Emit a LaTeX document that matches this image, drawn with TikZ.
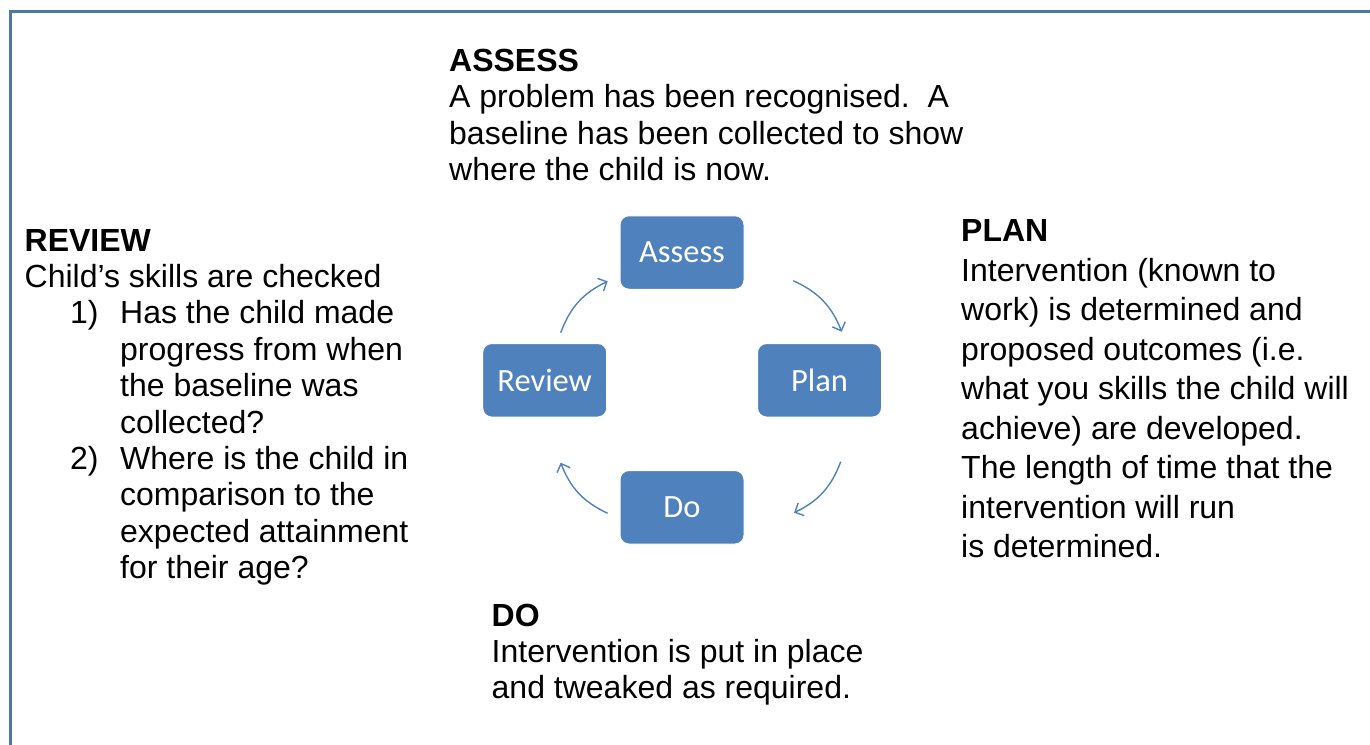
\documentclass[tikz,border=0pt]{standalone}
\usepackage{fontspec}
\setmainfont{Liberation Sans}
\newfontfamily\boxfont{Carlito}
\usetikzlibrary{arrows.meta}
\definecolor{boxblue}{HTML}{4F81BD}
\definecolor{framecol}{HTML}{4A78A8}
\begin{document}
\begin{tikzpicture}[x=1pt,y=-1pt,
  txt/.style={anchor=base west, inner sep=0pt, font=\fontsize{32}{36}\selectfont},
  hd/.style={anchor=base west, inner sep=0pt, font=\fontsize{32}{36}\selectfont\bfseries},
  stage/.style={draw=white, line width=1pt, fill=boxblue, rounded corners=9pt,
    minimum width=124pt, minimum height=73.5pt, inner sep=0pt, text=white,
    font=\boxfont\fontsize{32.5}{36}\selectfont},
  cyc/.style={draw=boxblue, line width=1.4pt, -{Straight Barb[length=7pt,width=14pt]}, bend left=22}
]
\useasboundingbox (0,0) rectangle (1370,744);
\draw[framecol, line width=3pt] (10,760) -- (10,11.5) -- (1380,11.5);

% stage boxes
\node[stage] (assess) at (682,252.5) {Assess};
\node[stage] (plan)   at (819.5,380.3) {Plan};
\node[stage] (do)     at (682,507.3) {Do};
\node[stage] (review) at (544.7,380.3) {Review};

% cycle arrows
\coordinate (ra1) at (560.7,332.7);
\coordinate (ra2) at (607.7,281.3);
\coordinate (ap1) at (793.3,280.7);
\coordinate (ap2) at (841.7,331.7);
\coordinate (pd1) at (840.7,461.7);
\coordinate (pd2) at (794,512.7);
\coordinate (dr1) at (607.7,513.3);
\coordinate (dr2) at (560.7,462.7);
\draw[cyc] (ra1) to (ra2);
\draw[cyc] (ap1) to (ap2);
\draw[cyc] (pd1) to (pd2);
\draw[cyc] (dr1) to (dr2);

% ASSESS text
\node[hd]  (a0) at (449,71)    {ASSESS};
\node[txt] (a1) at (449,107.7) {A problem has been recognised.\ \ A};
\node[txt] (a2) at (449,144)   {baseline has been collected to show};
\node[txt] (a3) at (449,180.5) {where the child is now.};

% REVIEW text
\node[hd]  (r0) at (24.5,251)   {REVIEW};
\node[txt] (r1) at (24.5,287.4) {Child’s skills are checked};
\node[txt] (n1) at (70,323.8)   {1)};
\node[txt] (r2) at (120,323.8)  {Has the child made};
\node[txt] (r3) at (120,360.2)  {progress from when};
\node[txt] (r4) at (120,396.6)  {the baseline was};
\node[txt] (r5) at (120,433)    {collected?};
\node[txt] (n2) at (70,469.4)   {2)};
\node[txt] (r6) at (120,469.4)  {Where is the child in};
\node[txt] (r7) at (120,505.8)  {comparison to the};
\node[txt] (r8) at (120,542.2)  {expected attainment};
\node[txt] (r9) at (120,578.6)  {for their age?};

% PLAN text
\node[hd]  (p0) at (961,241.5) {PLAN};
\node[txt] (p1) at (961,281)   {Intervention (known to};
\node[txt] (p2) at (961,320.5) {work) is determined and};
\node[txt] (p3) at (961,360)   {proposed outcomes (i.e.};
\node[txt] (p4) at (961,399.5) {what you skills the child will};
\node[txt] (p5) at (961,439)   {achieve) are developed.};
\node[txt] (p6) at (961,478.5) {The length of time that the};
\node[txt] (p7) at (961,518)   {intervention will run};
\node[txt] (p8) at (961,557.5) {is determined.};

% DO text
\node[hd]  (d0) at (491.5,626)   {DO};
\node[txt] (d1) at (491.5,662.3) {Intervention is put in place};
\node[txt] (d2) at (491.5,698.5) {and tweaked as required.};
\end{tikzpicture}
\end{document}
